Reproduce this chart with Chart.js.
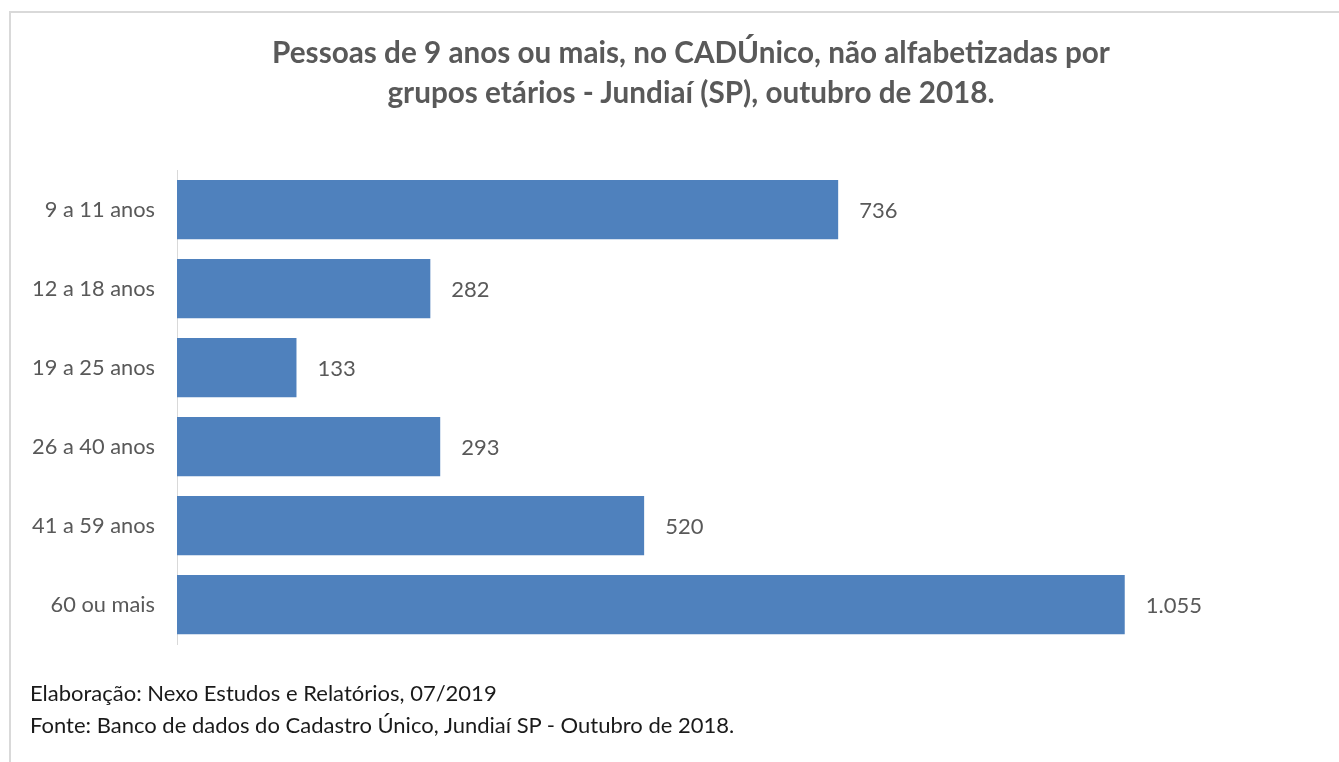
<!DOCTYPE html>
<html lang="pt">
<head>
    <meta charset="UTF-8">
    <title>Pessoas não alfabetizadas - Jundiaí</title>
    <script src="https://cdn.jsdelivr.net/npm/chart.js"></script>
    <style>
        body { margin: 0; background: #fff; font-family: Lato, sans-serif; }
        .wrap { position: relative; width: 1339px; height: 762px; overflow: hidden; }
        .frame { position: absolute; left: 9px; top: 11px; width: 1400px; height: 800px; border: 2px solid #d9d9d9; box-sizing: border-box; }
        .titulo { position: absolute; left: 0; top: 32px; width: 1382px; text-align: center; color: #595959;
                  font-weight: bold; font-size: 29.7px; line-height: 40px; }
        .fonte { position: absolute; left: 30px; top: 677px; color: #1a1a1a; font-size: 22px; line-height: 32px; }
        canvas { position: absolute; left: 0; top: 0; }
    </style>
</head>
<body>
<div class="wrap">
    <div class="frame"></div>
    <canvas id="grafico" width="1339" height="762"></canvas>
    <div class="titulo">Pessoas de 9 anos ou mais, no CADÚnico, não alfabetizadas por<br>grupos etários - Jundiaí (SP), outubro de 2018.</div>
    <div class="fonte">Elaboração: Nexo Estudos e Relatórios, 07/2019<br>Fonte: Banco de dados do Cadastro Único, Jundiaí SP - Outubro de 2018.</div>
</div>

<script>
    const faixas = ['9 a 11 anos', '12 a 18 anos', '19 a 25 anos', '26 a 40 anos', '41 a 59 anos', '60 ou mais'];
    const pessoas = [736, 282, 133, 293, 520, 1055];

    // valores no formato brasileiro (1.055)
    function fmt(v) {
        return v.toString().replace(/\B(?=(\d{3})+(?!\d))/g, '.');
    }

    const rotulos = {
        id: 'rotulos',
        afterDatasetsDraw(chart) {
            const ctx = chart.ctx;
            const meta = chart.getDatasetMeta(0);
            ctx.save();
            ctx.font = '22px Lato';
            ctx.fillStyle = '#595959';
            ctx.textBaseline = 'middle';
            ctx.textAlign = 'left';
            meta.data.forEach((bar, i) => {
                ctx.fillText(fmt(pessoas[i]), bar.x + 21, bar.y + 1);
            });
            ctx.restore();
        }
    };

    const ctx = document.getElementById('grafico').getContext('2d');
    new Chart(ctx, {
        type: 'bar',
        data: {
            labels: faixas,
            datasets: [{
                data: pessoas,
                backgroundColor: '#4f81bd',
                borderWidth: 0,
                categoryPercentage: 0.75,
                barPercentage: 1
            }]
        },
        options: {
            indexAxis: 'y',
            responsive: false,
            animation: false,
            layout: { padding: { top: 170, bottom: 118, right: 84, left: 0 } },
            plugins: {
                legend: { display: false },
                tooltip: { enabled: false }
            },
            scales: {
                x: {
                    display: false,
                    min: 0,
                    max: 1200
                },
                y: {
                    afterFit(scale) { scale.width = 177; },
                    grid: { display: false, drawTicks: false },
                    border: { display: true, color: '#d9d9d9', width: 1 },
                    ticks: {
                        padding: 22,
                        color: '#595959',
                        font: { family: 'Lato', size: 21.8 }
                    }
                }
            }
        },
        plugins: [rotulos]
    });
</script>
</body>
</html>
